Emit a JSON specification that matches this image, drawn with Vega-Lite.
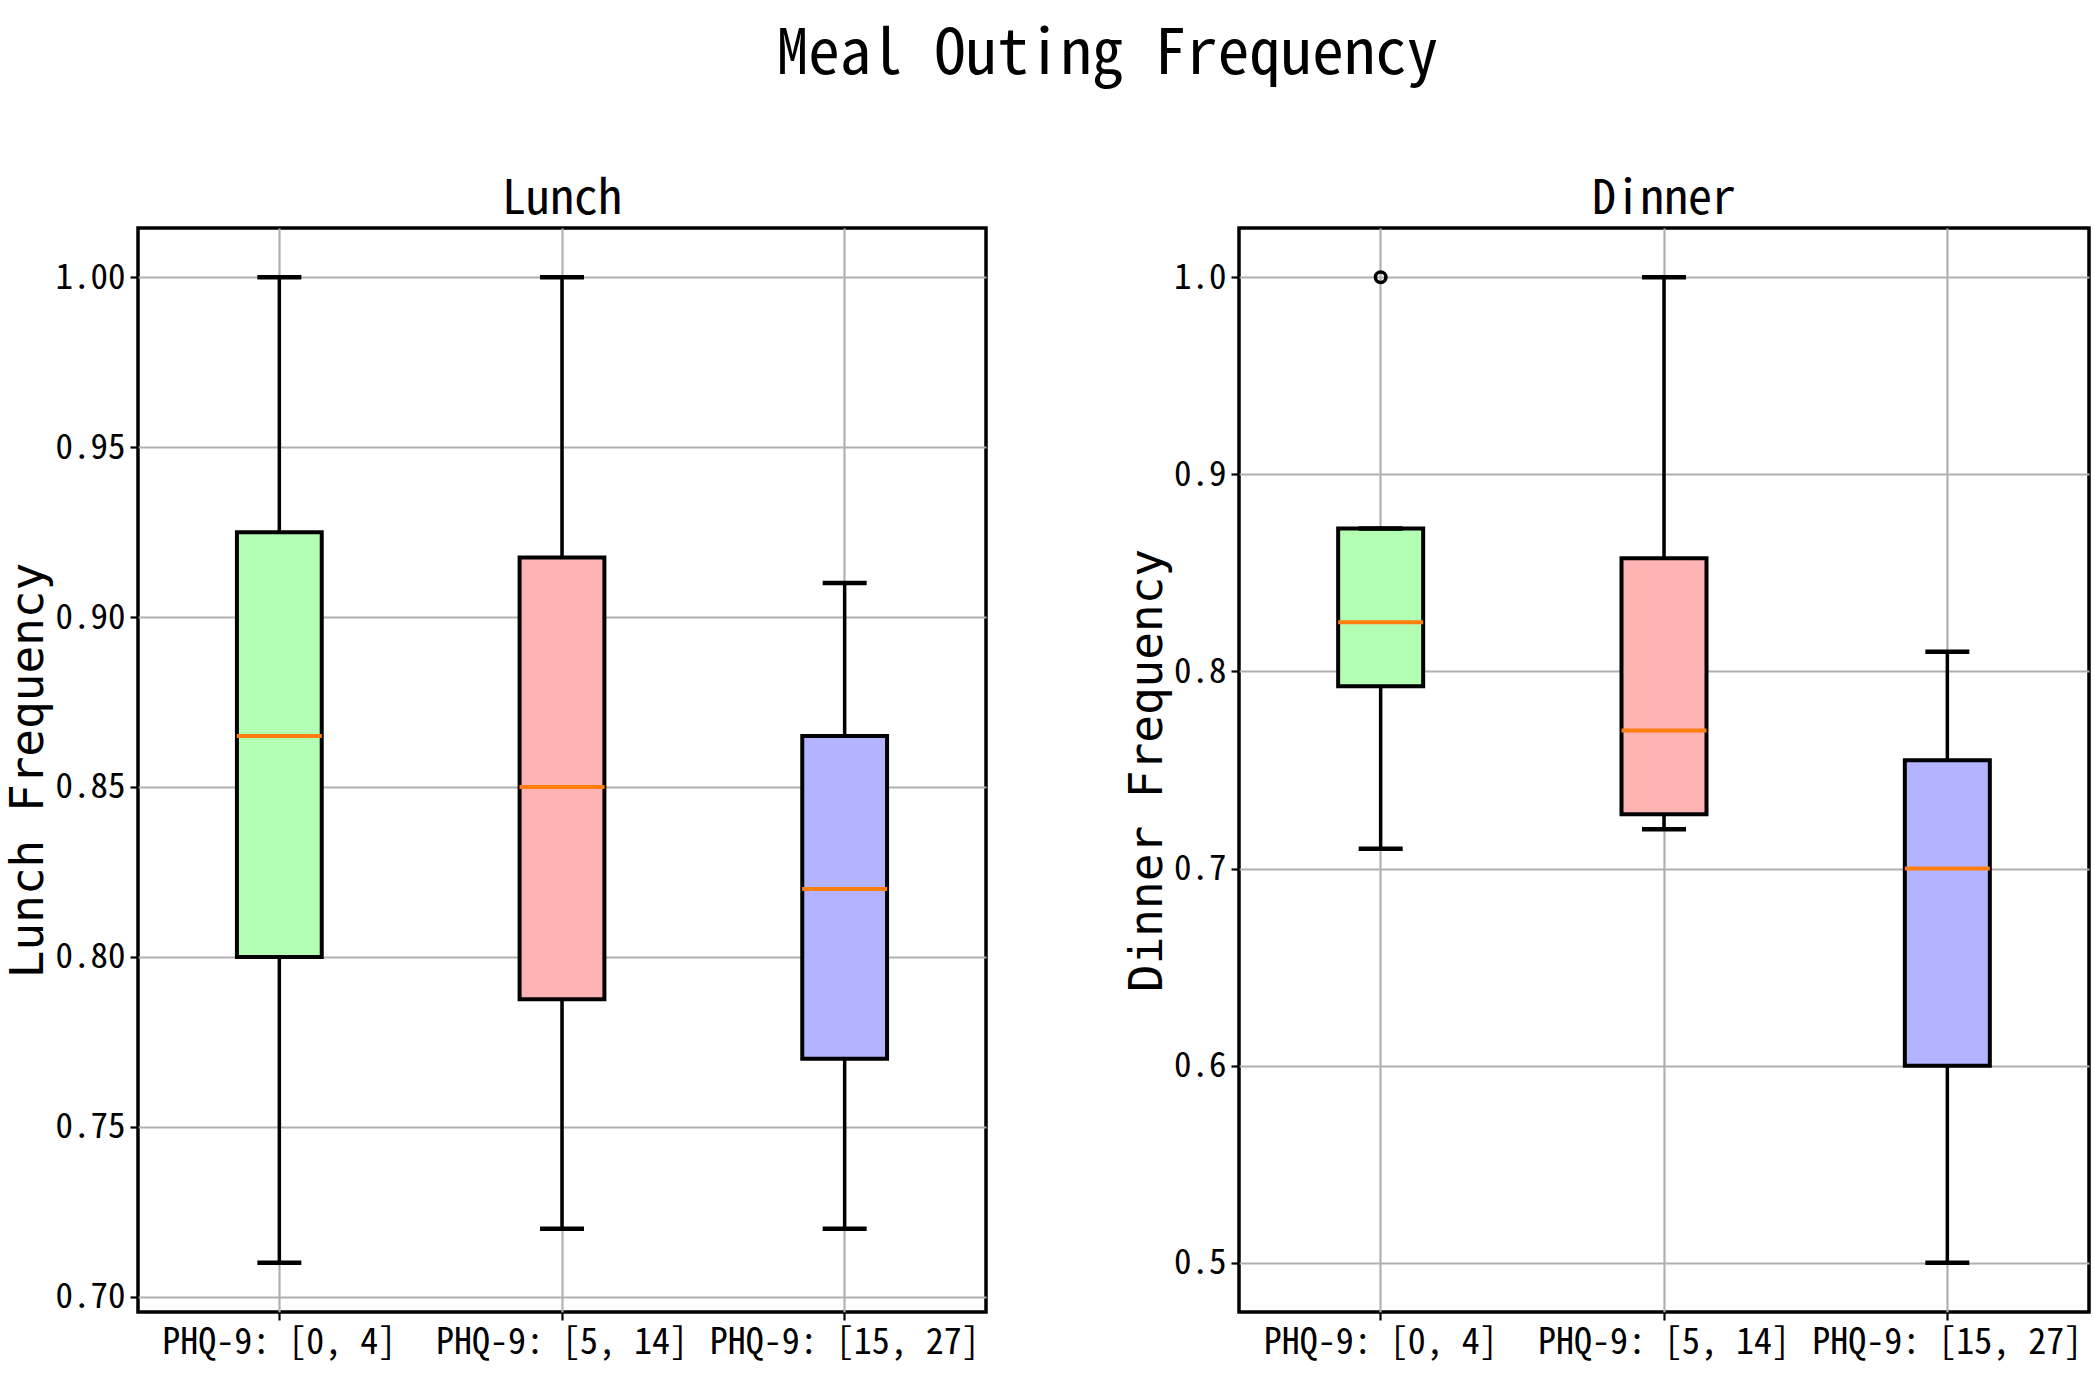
{
  "$schema": "https://vega.github.io/schema/vega-lite/v6.json",
  "padding": {"left": 4, "top": 24, "right": 5, "bottom": 5},
  "background": "white",
  "title": {
    "text": "Meal Outing Frequency",
    "font": "Noto Sans Mono CJK SC, DejaVu Sans Mono, monospace",
    "fontSize": 63,
    "fontWeight": "normal",
    "color": "black",
    "anchor": "middle",
    "offset": 87,
    "dx": 60
  },
  "datasets": {
    "stats": [
      {"meal": "Lunch", "group": "PHQ-9: [0, 4]", "lower": 0.71, "q1": 0.80, "median": 0.865, "q3": 0.925, "upper": 1.00},
      {"meal": "Lunch", "group": "PHQ-9: [5, 14]", "lower": 0.72, "q1": 0.7875, "median": 0.85, "q3": 0.9175, "upper": 1.00},
      {"meal": "Lunch", "group": "PHQ-9: [15, 27]", "lower": 0.72, "q1": 0.77, "median": 0.82, "q3": 0.865, "upper": 0.91},
      {"meal": "Dinner", "group": "PHQ-9: [0, 4]", "lower": 0.71, "q1": 0.7925, "median": 0.825, "q3": 0.8725, "upper": 0.8725},
      {"meal": "Dinner", "group": "PHQ-9: [5, 14]", "lower": 0.72, "q1": 0.7275, "median": 0.77, "q3": 0.8575, "upper": 1.00},
      {"meal": "Dinner", "group": "PHQ-9: [15, 27]", "lower": 0.50, "q1": 0.60, "median": 0.70, "q3": 0.755, "upper": 0.81}
    ],
    "outliers": [
      {"meal": "Dinner", "group": "PHQ-9: [0, 4]", "value": 1.0}
    ]
  },
  "config": {
    "view": {"stroke": "black", "strokeWidth": 3.5},
    "axis": {
      "grid": true,
      "gridColor": "#b0b0b0",
      "gridWidth": 2.2,
      "domain": false,
      "tickColor": "black",
      "tickSize": 8,
      "tickWidth": 2.2,
      "labelFont": "Noto Sans Mono CJK SC, DejaVu Sans Mono, monospace",
      "labelFontSize": 35,
      "labelColor": "black",
      "labelPadding": 5,
      "labelLimit": 0,
      "titleFont": "DejaVu Sans Mono",
      "titleFontSize": 46,
      "titleFontWeight": "normal",
      "titleColor": "black",
      "titlePadding": 2
    },
    "title": {
      "font": "Noto Sans Mono CJK SC, DejaVu Sans Mono, monospace",
      "fontSize": 48,
      "fontWeight": "normal",
      "color": "black",
      "offset": 4
    }
  },
  "hconcat": [
    {
      "width": 848,
      "height": 1084,
      "title": "Lunch",
      "data": {"name": "stats"},
      "transform": [{"filter": "datum.meal == 'Lunch'"}],
      "encoding": {
        "x": {
          "field": "group",
          "type": "nominal",
          "sort": null,
          "title": null,
          "scale": {"type": "band", "paddingInner": 0.7, "paddingOuter": 0.35},
          "axis": {"labelAngle": 0, "labelFontSize": 36}
        }
      },
      "layer": [
        {
          "mark": {"type": "rule", "stroke": "black", "strokeWidth": 3.5},
          "encoding": {
            "y": {
              "field": "lower",
              "type": "quantitative",
              "title": "Lunch Frequency",
              "scale": {"domain": [0.6955, 1.0145], "nice": false, "zero": false},
              "axis": {"values": [0.70, 0.75, 0.80, 0.85, 0.90, 0.95, 1.00], "format": ".2f"}
            },
            "y2": {"field": "upper"}
          }
        },
        {
          "mark": {"type": "bar", "stroke": "black", "strokeWidth": 4},
          "encoding": {
            "y": {"field": "q1", "type": "quantitative"},
            "y2": {"field": "q3"},
            "fill": {
              "field": "group",
              "type": "nominal",
              "legend": null,
              "scale": {
                "domain": ["PHQ-9: [0, 4]", "PHQ-9: [5, 14]", "PHQ-9: [15, 27]"],
                "range": ["#b3ffb3", "#ffb3b3", "#b3b3ff"]
              }
            }
          }
        },
        {
          "mark": {"type": "tick", "size": 85, "thickness": 4, "color": "#ff7f0e", "opacity": 1},
          "encoding": {"y": {"field": "median", "type": "quantitative"}}
        },
        {
          "mark": {"type": "tick", "size": 44, "thickness": 4.5, "color": "black", "opacity": 1},
          "encoding": {"y": {"field": "lower", "type": "quantitative"}}
        },
        {
          "mark": {"type": "tick", "size": 44, "thickness": 4.5, "color": "black", "opacity": 1},
          "encoding": {"y": {"field": "upper", "type": "quantitative"}}
        }
      ]
    },
    {
      "width": 850,
      "height": 1084,
      "title": "Dinner",
      "encoding": {
        "x": {
          "field": "group",
          "type": "nominal",
          "sort": null,
          "title": null,
          "scale": {"type": "band", "paddingInner": 0.7, "paddingOuter": 0.35},
          "axis": {"labelAngle": 0, "labelFontSize": 36}
        }
      },
      "layer": [
        {
          "data": {"name": "stats"},
          "transform": [{"filter": "datum.meal == 'Dinner'"}],
          "layer": [
            {
              "mark": {"type": "rule", "stroke": "black", "strokeWidth": 3.5},
              "encoding": {
                "y": {
                  "field": "lower",
                  "type": "quantitative",
                  "title": "Dinner Frequency",
                  "scale": {"domain": [0.475, 1.025], "nice": false, "zero": false},
                  "axis": {"values": [0.5, 0.6, 0.7, 0.8, 0.9, 1.0], "format": ".1f"}
                },
                "y2": {"field": "upper"}
              }
            },
            {
              "mark": {"type": "bar", "stroke": "black", "strokeWidth": 4},
              "encoding": {
                "y": {"field": "q1", "type": "quantitative"},
                "y2": {"field": "q3"},
                "fill": {
                  "field": "group",
                  "type": "nominal",
                  "legend": null,
                  "scale": {
                    "domain": ["PHQ-9: [0, 4]", "PHQ-9: [5, 14]", "PHQ-9: [15, 27]"],
                    "range": ["#b3ffb3", "#ffb3b3", "#b3b3ff"]
                  }
                }
              }
            },
            {
              "mark": {"type": "tick", "size": 85, "thickness": 4, "color": "#ff7f0e", "opacity": 1},
              "encoding": {"y": {"field": "median", "type": "quantitative"}}
            },
            {
              "mark": {"type": "tick", "size": 44, "thickness": 4.5, "color": "black", "opacity": 1},
              "encoding": {"y": {"field": "lower", "type": "quantitative"}}
            },
            {
              "mark": {"type": "tick", "size": 44, "thickness": 4.5, "color": "black", "opacity": 1},
              "encoding": {"y": {"field": "upper", "type": "quantitative"}}
            }
          ]
        },
        {
          "data": {"name": "outliers"},
          "mark": {"type": "point", "filled": false, "size": 110, "stroke": "black", "strokeWidth": 3.5, "opacity": 1},
          "encoding": {"y": {"field": "value", "type": "quantitative"}}
        }
      ]
    }
  ],
  "spacing": 253,
  "bounds": "flush"
}
